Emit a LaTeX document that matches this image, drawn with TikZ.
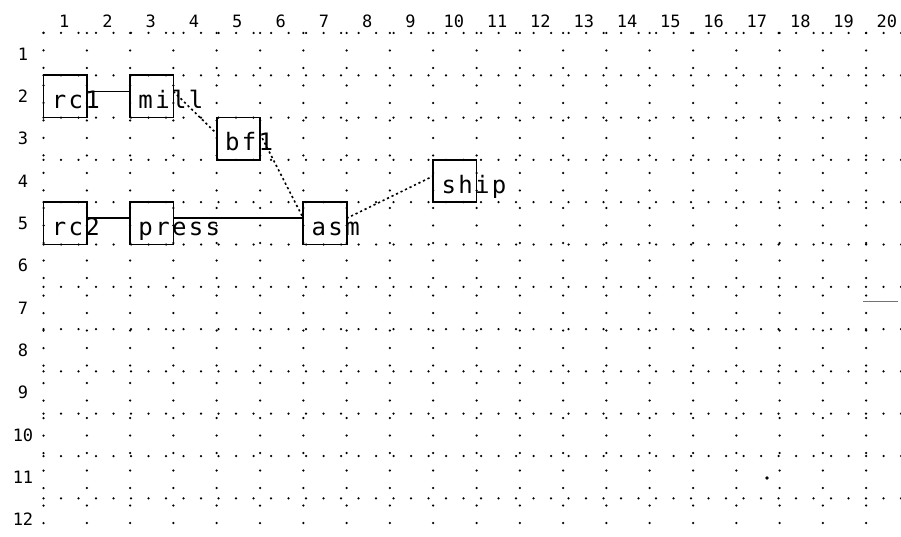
\documentclass[tikz,border=0pt]{standalone}
\usepackage{fontspec}
\newfontfamily\plotfont{DejaVu Sans Mono}
% fixed pitch lettering: every character gets a cell of the same width
\newcommand\pitched[1]{\pitchedstep#1\relax}
\def\pitchedstep#1{\ifx#1\relax\else\makebox[16.8pt][c]{#1}\expandafter\pitchedstep\fi}
\tikzset{
  griddots/.style={line width=2.5pt, line cap=round, dash pattern=on 0pt off 17.5pt},
  box/.style={draw, line width=1.8pt, minimum width=43.3pt, minimum height=42.3pt,
              inner sep=0pt, outer sep=0pt},
  boxtext/.style={anchor=base west, inner sep=0pt, font=\plotfont\fontsize{24}{24}\selectfont},
  axislabel/.style={inner sep=0pt, font=\plotfont\fontsize{17}{17}\selectfont},
  solidlink/.style={line width=1.7pt},
  dotlink/.style={line width=1.6pt, dash pattern=on 2.2pt off 2.8pt},
}
\begin{document}
\begin{tikzpicture}[x=1pt, y=-1pt]
\useasboundingbox (0,0) rectangle (901,537);
\fill[white] (0,0) rectangle (901,537);

% dotted grid: 20 columns, 12 rows
\foreach \i in {0,...,19}
  \draw[griddots] ({43.5+43.3*\i},33) -- ({43.5+43.3*\i},537);
\foreach \j in {0,...,11}
  \draw[griddots] (43.5,{33+42.3*\j}) -- (901,{33+42.3*\j});

% column numbers
\foreach \c in {1,...,20}
  \node[axislabel] (col\c) at ({43.5+43.3*(\c-0.5)-1},21) {\c};
% row numbers
\foreach \r in {1,...,12}
  \node[axislabel] (row\r) at (23,{33+42.3*(\r-0.5)}) {\r};

% stations
\node[box] (rc1)   at (65.15,96.45)   {};
\node[box] (mill)  at (151.75,96.45)  {};
\node[box] (bf1)   at (238.35,138.75) {};
\node[box] (rc2)   at (65.15,223.35)  {};
\node[box] (press) at (151.75,223.35) {};
\node[box] (asm)   at (324.95,223.35) {};
\node[box] (ship)  at (454.85,181.05) {};

\foreach \b in {rc1, mill, bf1, rc2, press, asm, ship}
  \node[boxtext] (\b-text) at ([xshift=7pt,yshift=9pt]\b.south west)
    {\expandafter\pitched\expandafter{\b}};

% flows between stations
\draw[solidlink] ([yshift=5pt]rc1.east)   -- ([yshift=5pt]mill.west);
\draw[solidlink] ([yshift=5pt]rc2.east)   -- ([yshift=5pt]press.west);
\draw[solidlink] ([yshift=5pt]press.east) -- ([yshift=5pt]asm.west);
\draw[dotlink]   ([yshift=5pt]mill.east)  -- ([yshift=5pt]bf1.west);
\draw[dotlink]   ([yshift=5pt]bf1.east)   -- ([yshift=5pt]asm.west);
\draw[dotlink]   ([yshift=5pt]asm.east)   -- ([yshift=5pt]ship.west);

% stray marks on the sheet
\draw[black!55, line width=0.9pt] (863,301) -- (898,301);
\fill (767,478) circle (1.8pt);
\end{tikzpicture}
\end{document}
